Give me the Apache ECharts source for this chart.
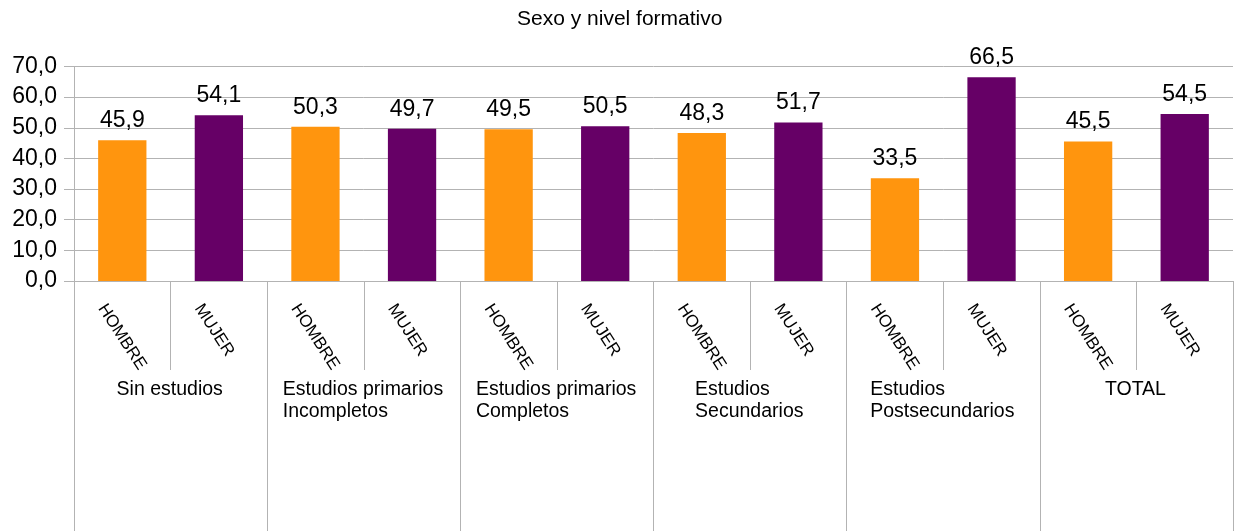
<!DOCTYPE html>
<html><head><meta charset="utf-8">
<script src="https://cdn.jsdelivr.net/npm/echarts@6/dist/echarts.min.js"></script>
<style>html,body{margin:0;padding:0;background:#fff}#c{width:1234px;height:531px}</style>
</head><body><div id="c"></div>
<script>
// ---- data ----
const titleText = 'Sexo y nivel formativo';
const groups = ['Sin estudios', 'Estudios primarios\nIncompletos', 'Estudios primarios\nCompletos', 'Estudios\nSecundarios', 'Estudios\nPostsecundarios', 'TOTAL'];
const sexes = ['HOMBRE', 'MUJER'];
const hombre = [45.9, 50.3, 49.5, 48.3, 33.5, 45.5];
const mujer = [54.1, 49.7, 50.5, 51.7, 66.5, 54.5];
const yMin = 0, yMax = 70, yStep = 10;

// ---- build ----
const FONT = 'Liberation Sans';
const sexColors = { HOMBRE: '#ff950e', MUJER: '#660066' };
const cats = [], values = [];
groups.forEach((g, i) => {
  sexes.forEach((s, j) => {
    cats.push(i + '|' + s);
    values.push({ value: (j === 0 ? hombre : mujer)[i], itemStyle: { color: sexColors[s] } });
  });
});
const ctx = document.createElement('canvas').getContext('2d');
function tw(t, size) { ctx.font = size + 'px "' + FONT + '"'; return ctx.measureText(t).width; }
const fmt = v => Number(v).toFixed(1).replace('.', ',');

const GF = 19.5, SF = 17;
const groupRich = {};
groups.forEach((g, i) => {
  const w = Math.max(...g.split('\n').map(l => tw(l, GF)));
  groupRich['g' + i] = { width: Math.ceil(w) + 1, align: 'left', fontSize: GF, fontFamily: FONT, color: '#000', lineHeight: 22 };
});
const sexW = Math.ceil(Math.max(...sexes.map(s => tw(s, SF)))) + 1;

const chart = echarts.init(document.getElementById('c'), null, { renderer: 'canvas' });
chart.setOption({
  animation: false,
  backgroundColor: '#fff',
  textStyle: { fontFamily: FONT },
  title: {
    text: titleText, left: 512, top: 4, padding: 5,
    textStyle: { fontFamily: FONT, fontSize: 21, fontWeight: 'normal', color: '#000' }
  },
  grid: { left: 74, right: 1, top: 66.5, bottom: 250, containLabel: false, outerBoundsMode: 'none' },
  xAxis: [
    {
      type: 'category', data: cats, position: 'bottom',
      axisLine: { show: true, lineStyle: { color: '#b3b3b3', width: 1 } },
      axisTick: { show: true, length: 89, lineStyle: { color: '#b3b3b3', width: 1 } },
      axisLabel: {
        interval: 0, rotate: -57, margin: 56.5, align: 'center', verticalAlign: 'middle',
        fontSize: SF, fontFamily: FONT, color: '#000', hideOverlap: false,
        formatter: v => '{s|' + v.split('|')[1] + '}',
        rich: { s: { width: sexW, align: 'left', fontSize: SF, fontFamily: FONT, color: '#000' } }
      },
      splitLine: { show: false }
    },
    {
      type: 'category', data: groups, position: 'bottom', offset: 0,
      axisLine: { show: false },
      axisTick: { show: true, length: 250, lineStyle: { color: '#b3b3b3', width: 1 } },
      axisLabel: {
        interval: 0, margin: 98, align: 'center', verticalAlign: 'top',
        fontSize: GF, fontFamily: FONT, color: '#000', lineHeight: 22, hideOverlap: false,
        formatter: (v, idx) => v.split('\n').map(l => '{g' + idx + '|' + l + '}').join('\n'),
        rich: groupRich
      },
      splitLine: { show: false }
    }
  ],
  yAxis: {
    type: 'value', min: yMin, max: yMax, interval: yStep,
    axisLine: { show: true, lineStyle: { color: '#b3b3b3', width: 1 } },
    axisTick: { show: true, length: 10, lineStyle: { color: '#b3b3b3', width: 1 } },
    splitLine: { show: true, lineStyle: { color: '#b3b3b3', width: 1 } },
    axisLabel: { fontSize: 23, fontFamily: FONT, color: '#000', margin: 17, formatter: fmt }
  },
  series: [{
    type: 'bar', xAxisIndex: 0, yAxisIndex: 0, data: values, barWidth: '50%',
    label: { show: true, position: 'top', distance: 8, fontSize: 23, fontFamily: FONT, color: '#000',
      formatter: p => fmt(p.value) }
  }]
});
</script></body></html>
